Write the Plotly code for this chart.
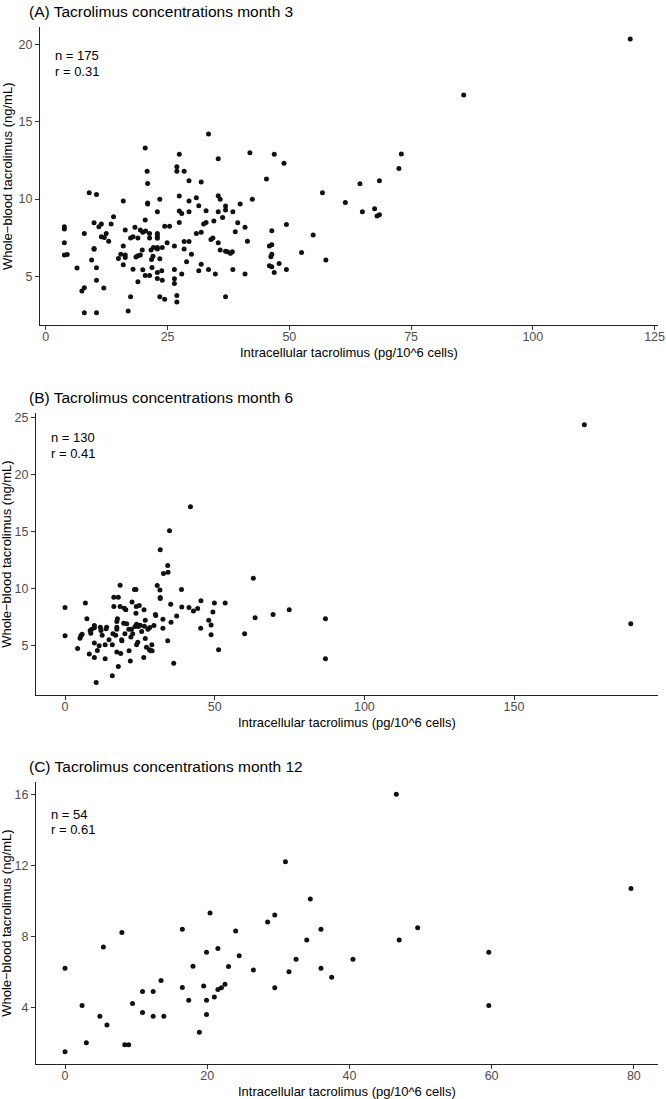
import plotly.graph_objects as go

# ---------------- data ----------------
a_x = [3.8, 3.8, 3.8, 3.8, 4.4, 6.4, 7.4, 7.9, 7.9, 7.9, 8.9, 10.4, 9.9, 9.4, 9.9, 9.9, 10.4, 10.4, 10.4,
       10.9, 11.4, 11.9, 11.4, 12.0, 12.4, 12.9, 13.4, 13.9, 14.9, 15.4, 15.9, 15.9, 15.9, 16.3, 16.3, 16.3,
       16.9, 17.4, 17.4, 17.9, 17.9, 18.3, 18.5, 18.9, 18.9, 18.9, 19.4, 19.4, 19.9, 19.8, 19.9, 20.4, 20.4,
       20.4, 20.5, 20.8, 20.9, 20.9, 20.9, 21.3, 21.3, 21.3, 21.6, 21.7, 21.8, 22.0, 22.1, 22.9, 22.9, 22.9,
       22.9, 22.9, 22.9, 22.9, 22.9, 23.4, 23.4, 23.4, 23.9, 23.9, 23.8, 24.4, 24.4, 24.9, 25.4, 26.4, 26.4,
       26.4, 26.4, 26.9, 26.9, 26.9, 26.9, 27.4, 27.4, 27.4, 27.4, 27.9, 27.9, 28.4, 28.4, 28.4, 28.9, 29.4,
       29.4, 29.4, 29.4, 29.9, 30.9, 30.9, 31.4, 31.4, 31.9, 31.9, 31.9, 32.4, 32.9, 32.9, 33.4, 33.4, 33.9,
       34.3, 34.5, 34.8, 35.4, 35.4, 35.4, 35.4, 35.8, 35.8, 36.3, 36.9, 36.9, 36.9, 36.9, 37.3, 37.9, 38.3,
       38.4, 38.4, 38.9, 39.4, 39.9, 40.9, 40.9, 41.4, 41.9, 42.4, 45.3, 45.9, 46.4, 46.2, 46.4, 46.4, 46.4,
       46.9, 45.9, 46.9, 47.9, 48.9, 49.4, 49.4, 52.5, 54.9, 56.8, 57.5, 61.5, 64.5, 65.0, 67.5, 68.0, 68.5,
       68.5, 72.5, 73.0, 85.8, 120.0]
a_y = [8.21, 8.06, 7.18, 6.38, 6.42, 5.54, 4.05, 4.27, 2.65, 7.78, 10.41, 10.30, 8.47, 6.06, 6.81, 6.75,
       5.56, 4.76, 2.65, 8.21, 8.38, 4.25, 7.56, 7.52, 7.78, 7.28, 8.38, 8.86, 6.16, 6.44, 9.87, 6.96, 5.75,
       8.00, 6.38, 6.23, 2.76, 3.69, 7.48, 7.56, 5.47, 8.17, 6.25, 4.66, 7.48, 6.34, 6.38, 8.00, 7.85, 6.70,
       5.43, 13.30, 8.64, 5.06, 7.93, 11.79, 11.01, 9.74, 9.68, 7.78, 7.48, 5.06, 6.70, 6.10, 5.58, 6.31,
       6.87, 9.18, 7.78, 7.61, 7.46, 6.87, 6.77, 5.26, 4.87, 9.98, 6.14, 3.69, 6.87, 4.76, 5.37, 3.53, 8.25,
       7.18, 8.25, 6.96, 5.45, 4.85, 4.55, 12.09, 11.79, 3.77, 3.34, 12.89, 10.19, 9.22, 8.49, 9.07, 5.15,
       11.79, 7.26, 6.77, 5.95, 11.19, 9.87, 9.18, 7.26, 6.44, 10.09, 7.78, 9.57, 5.37, 11.10, 7.85, 5.78,
       8.38, 8.49, 9.25, 14.20, 5.45, 7.39, 7.48, 8.58, 5.15, 7.18, 9.18, 12.61, 10.22, 9.98, 6.70, 8.81,
       6.62, 9.29, 9.55, 3.69, 6.59, 6.49, 6.59, 9.18, 5.45, 7.89, 8.47, 9.68, 8.17, 5.15, 7.28, 13.00, 9.98,
       11.29, 6.96, 7.05, 6.27, 7.95, 6.44, 5.62, 12.89, 5.69, 5.26, 5.84, 12.31, 8.36, 5.45, 6.55, 7.67,
       10.41, 6.06, 9.78, 10.99, 9.18, 9.38, 8.90, 8.99, 11.19, 11.98, 12.91, 16.72, 20.34]

b_x = [0.0, 0.0, 4.2, 5.0, 5.3, 5.7, 6.8, 7.3, 8.1, 8.6, 8.4, 8.9, 9.8, 9.8, 9.8, 9.8, 10.4, 10.8, 11.4,
       11.8, 12.0, 12.4, 13.4, 13.4, 13.7, 13.9, 14.7, 15.8, 15.8, 16.3, 16.3, 16.0, 16.9, 17.3, 17.5, 17.3,
       17.3, 17.3, 17.8, 17.8, 18.4, 18.4, 18.6, 18.9, 19.0, 19.8, 20.3, 19.6, 20.0, 20.6, 21.3, 21.4, 21.8,
       22.0, 22.2, 22.4, 22.6, 23.2, 23.7, 23.4, 23.7, 23.8, 23.9, 23.9, 24.3, 24.5, 24.8, 25.1, 25.6, 26.3,
       26.4, 26.5, 26.8, 26.8, 27.2, 27.7, 28.2, 28.6, 29.1, 29.0, 28.3, 29.7, 30.3, 30.2, 30.8, 31.7, 31.8,
       31.8, 31.8, 32.7, 32.9, 32.7, 34.3, 34.4, 34.3, 34.9, 35.3, 35.4, 36.3, 37.3, 38.9, 39.0, 41.4, 41.9,
       42.9, 44.3, 45.4, 45.3, 48.0, 48.8, 48.8, 49.4, 49.9, 51.3, 53.5, 60.0, 62.9, 63.5, 69.5, 74.9, 87.0,
       87.0, 173.5, 189.0]
b_y = [8.30, 5.82, 4.71, 5.61, 5.82, 5.96, 8.71, 7.31, 4.22, 6.05, 6.29, 6.40, 6.73, 6.52, 5.18, 3.92,
       1.72, 4.53, 4.94, 6.58, 6.29, 5.88, 5.03, 3.80, 6.43, 6.58, 5.47, 2.31, 5.03, 9.21, 8.39, 6.00, 5.88,
       7.08, 7.31, 6.40, 6.58, 4.39, 9.21, 3.13, 10.26, 8.39, 4.27, 5.47, 5.38, 8.25, 8.10, 6.93, 6.00, 6.87,
       6.40, 4.50, 3.60, 5.71, 6.40, 8.80, 6.00, 9.88, 9.88, 6.64, 7.81, 8.39, 6.84, 5.03, 5.26, 6.64, 8.48,
       6.75, 6.20, 3.92, 8.10, 6.67, 5.58, 7.19, 4.82, 6.40, 4.59, 4.50, 4.50, 5.03, 6.55, 6.73, 7.60, 7.69,
       10.23, 9.85, 9.18, 9.09, 13.39, 7.28, 11.29, 6.49, 11.99, 11.40, 5.38, 15.06, 8.60, 7.02, 3.42, 7.57,
       9.88, 8.36, 8.30, 17.16, 8.01, 8.22, 8.89, 6.49, 7.19, 6.78, 5.91, 7.92, 8.71, 4.59, 8.71, 6.00,
       10.88, 7.40, 7.69, 8.10, 7.31, 3.80, 24.36, 6.87]

c_x = [0.0, 0.0, 2.4, 3.0, 4.9, 5.4, 5.9, 8.0, 8.4, 8.95, 9.5, 10.9, 10.9, 12.4, 12.4, 13.5, 13.9, 16.5,
       16.5, 17.4, 18.0, 18.9, 19.5, 19.9, 19.9, 19.9, 20.4, 21.0, 21.5, 21.5, 22.0, 22.5, 23.0, 24.0, 24.5,
       26.5, 28.5, 29.5, 29.5, 31.0, 31.5, 32.5, 34.0, 34.5, 36.0, 36.0, 37.5, 40.5, 46.6, 47.0, 49.6, 59.6,
       59.6, 79.6]
c_y = [6.19, 1.49, 4.09, 1.99, 3.49, 7.39, 2.99, 8.20, 1.88, 1.88, 4.21, 4.88, 3.70, 4.88, 3.49, 5.50,
       3.49, 8.39, 5.11, 4.39, 6.31, 2.59, 5.20, 7.09, 4.39, 3.59, 9.31, 4.58, 7.30, 4.99, 5.09, 5.29, 6.29,
       8.29, 6.89, 6.10, 8.80, 9.19, 5.09, 12.19, 5.99, 6.70, 7.79, 10.09, 8.39, 6.19, 5.69, 6.70, 16.00,
       7.79, 8.48, 7.09, 4.09, 10.69]

titles = ["(A) Tacrolimus concentrations month 3",
          "(B) Tacrolimus concentrations month 6",
          "(C) Tacrolimus concentrations month 12"]
n_labels = ["n = 175", "n = 130", "n = 54"]
r_labels = ["r = 0.31", "r = 0.41", "r = 0.61"]
x_ticks = [[0, 25, 50, 75, 100, 125], [0, 50, 100, 150], [0, 20, 40, 60, 80]]
y_ticks = [[5, 10, 15, 20], [5, 10, 15, 20, 25], [4, 8, 12, 16]]
x_title = "Intracellular tacrolimus (pg/10^6 cells)"
y_title = "Whole\u2212blood tacrolimus (ng/mL)"

# ---------------- layout geometry (pixels) ----------------
W, H = 666, 1099
FONT = "Liberation Sans, Arial, Helvetica, sans-serif"


def px(x):
    return x / W


def py(y):
    return 1 - y / H


panels = [
    dict(x=a_x, y=a_y, left=40, right=658, top=27, bottom=325,
         xr=[-1.2, 125.7], yr=[1.86, 21.12], title_y=12, n_y=55, r_y=71),
    dict(x=b_x, y=b_y, left=36, right=658, top=412.7, bottom=695,
         xr=[-9.7, 198.1], yr=[0.62, 25.42], title_y=397, n_y=438, r_y=453),
    dict(x=c_x, y=c_y, left=36, right=658, top=781.7, bottom=1064,
         xr=[-4.08, 83.4], yr=[0.8, 16.7], title_y=766, n_y=814, r_y=829),
]

fig = go.Figure()
annotations = []
for i, p in enumerate(panels):
    sfx = "" if i == 0 else str(i + 1)
    fig.add_trace(go.Scatter(
        x=p["x"], y=p["y"], mode="markers",
        marker=dict(color="#111111", size=5, line=dict(width=0)),
        xaxis="x" + sfx, yaxis="y" + sfx, showlegend=False, hoverinfo="x+y"))
    axis_common = dict(showgrid=False, zeroline=False, showline=True, linecolor="#222222",
                       linewidth=1, ticks="outside", ticklen=4, tickwidth=1, tickcolor="#333333",
                       automargin=False,
                       tickfont=dict(family=FONT, size=12.5, color="#4d4d4d"))
    fig.update_layout(**{
        "xaxis" + sfx: dict(axis_common, domain=[px(p["left"]), px(p["right"])], range=p["xr"],
                            tickvals=x_ticks[i], anchor="y" + sfx, ticklabelstandoff=-4),
        "yaxis" + sfx: dict(axis_common, domain=[py(p["bottom"]), py(p["top"])], range=p["yr"],
                            tickvals=y_ticks[i], anchor="x" + sfx),
    })
    annotations += [
        dict(text=titles[i], x=px(27), y=py(p["title_y"]), xref="paper", yref="paper",
             xanchor="left", yanchor="middle", showarrow=False,
             font=dict(family=FONT, size=15.5, color="#000000")),
        dict(text=n_labels[i], x=px(p["left"] + 13), y=py(p["n_y"]), xref="paper", yref="paper",
             xanchor="left", yanchor="middle", showarrow=False,
             font=dict(family=FONT, size=13, color="#000000")),
        dict(text=r_labels[i], x=px(p["left"] + 13), y=py(p["r_y"]), xref="paper", yref="paper",
             xanchor="left", yanchor="middle", showarrow=False,
             font=dict(family=FONT, size=13, color="#000000")),
        dict(text=x_title, x=px((p["left"] + p["right"]) / 2), y=py(p["bottom"] + 27),
             xref="paper", yref="paper", xanchor="center", yanchor="middle", showarrow=False,
             font=dict(family=FONT, size=13, color="#000000")),
        dict(text=y_title, x=px(7), y=py((p["top"] + p["bottom"]) / 2), textangle=-90,
             xref="paper", yref="paper", xanchor="center", yanchor="middle", showarrow=False,
             font=dict(family=FONT, size=13, color="#000000")),
    ]

fig.update_layout(width=W, height=H, margin=dict(l=0, r=0, t=0, b=0),
                  paper_bgcolor="white", plot_bgcolor="white",
                  annotations=annotations, font=dict(family=FONT))
fig.write_html("out.html", config={"displayModeBar": False},
               post_script="document.body.style.margin='0';document.body.style.padding='0';"
                           "document.documentElement.style.overflow='hidden';")
